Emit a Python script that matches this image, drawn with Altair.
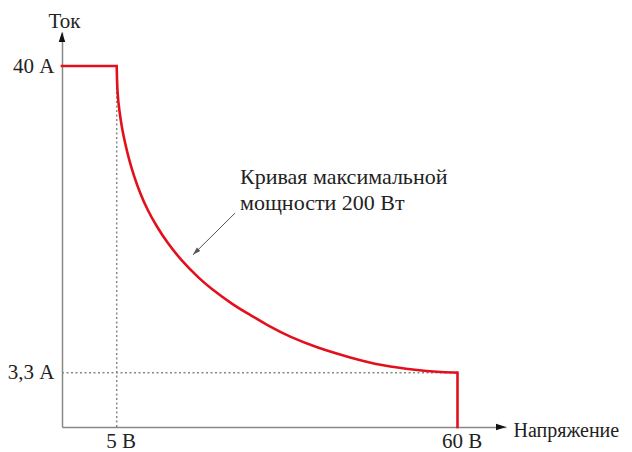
import altair as alt
import pandas as pd

# Power-limit curve (V, A)
voltage = [0, 5, 5.1, 5.42, 5.81, 6.34, 6.99, 7.8, 8.76, 9.94, 11.46, 13.07, 15.49,
           18.45, 20.07, 23.8, 26.6, 29.7, 32.9, 37.3, 42.7, 48.0, 53.5, 56.7, 60, 60]
current = [40, 40, 36.7, 34.7, 32.7, 30.8, 28.8, 26.8, 24.8, 22.8, 20.8, 18.94, 16.67,
           14.48, 13.46, 11.4, 10.2, 8.8, 7.6, 6.3, 5.1, 4.1, 3.6, 3.4, 3.3, 0]

x_ticks = [5, 60]
y_ticks = [3.3, 40]
x_title = "Напряжение"
y_title = "Ток"
note = "Кривая максимальной\nмощности 200 Вт"

# schematic (piecewise) axes
x_domain = [0, 5, 60, 67.8]
x_range = [0, 54.7, 395.5, 444]
y_domain = [0, 3.3, 40, 44.1]
y_range = [395, 340.7, 34, 0]

FONT = "Liberation Serif"
RED = "#e3101b"

n = len(voltage)
curve = pd.DataFrame({"v": voltage, "i": current, "k": list(range(n))})
guides = pd.DataFrame({"v": [x_ticks[0], 0], "v2": [x_ticks[0], x_ticks[1]],
                       "i": [0, y_ticks[0]], "i2": [y_ticks[1], y_ticks[0]]})
x_arrow = pd.DataFrame({"v": [x_domain[-1]], "i": [0]})
y_arrow = pd.DataFrame({"v": [0], "i": [y_domain[-1]]})
pointer = pd.DataFrame({"v": [24.1], "i": [22.4], "v2": [17.3], "i2": [17.4]})
label = pd.DataFrame({"v": [24.9], "i": [25.9], "t": [note]})

xs = alt.Scale(domain=x_domain, range=x_range, nice=False, zero=False)
ys = alt.Scale(domain=y_domain, range=y_range, nice=False, zero=False)

x_axis = alt.Axis(values=x_ticks, labelExpr="datum.value + ' В'", ticks=False, grid=False,
                  domainColor="#888", domainWidth=1.5, labelFont=FONT, labelFontSize=21,
                  labelColor="#222", labelPadding=3, labelAngle=0, labelOffset=4,
                  title=x_title, titleFont=FONT, titleFontSize=20, titleFontWeight="normal",
                  titleColor="#222", titleX=451, titleY=9, titleAlign="left",
                  titleBaseline="alphabetic")
y_axis = alt.Axis(values=y_ticks,
                  labelExpr="replace(toString(datum.value), '.', ',') + ' А'",
                  ticks=False, grid=False, domainColor="#888", domainWidth=1.5,
                  labelFont=FONT, labelFontSize=21, labelColor="#222", labelPadding=8,
                  title=y_title, titleFont=FONT, titleFontSize=21, titleFontWeight="normal",
                  titleColor="#222", titleAngle=0, titleX=2, titleY=-5, titleAlign="center",
                  titleBaseline="alphabetic")


def X(f):
    return alt.X(f, scale=xs, axis=x_axis)


def Y(f):
    return alt.Y(f, scale=ys, axis=y_axis)


dots = alt.Chart(guides).mark_rule(color="#888", strokeWidth=1.5, strokeDash=[2, 2.5]).encode(
    x=X("v:Q"), x2="v2:Q", y=Y("i:Q"), y2="i2:Q")

flat = alt.Chart(curve).transform_filter(
    (alt.datum.k <= 1) | (alt.datum.k >= n - 2)
).mark_line(color=RED, strokeWidth=2.6, strokeCap="square").encode(
    x=X("v:Q"), y=Y("i:Q"), order="k:Q",
    detail=alt.Detail("seg:N")).transform_calculate(seg="datum.k <= 1 ? 'a' : 'b'")

bend = alt.Chart(curve).transform_filter(
    (alt.datum.k >= 1) & (alt.datum.k <= n - 2)
).mark_line(color=RED, strokeWidth=2.6, interpolate="basis").encode(
    x=X("v:Q"), y=Y("i:Q"), order="k:Q")

xa = alt.Chart(x_arrow).mark_point(shape="M0,0L-2,-0.65L-2,0.65Z", size=100, filled=True,
                                   color="#111", opacity=1).encode(x=X("v:Q"), y=Y("i:Q"))
ya = alt.Chart(y_arrow).mark_point(shape="M0,0L-0.65,2L0.65,2Z", size=100, filled=True,
                                   color="#111", opacity=1).encode(x=X("v:Q"), y=Y("i:Q"))

pline = alt.Chart(pointer).mark_rule(color="#555", strokeWidth=1).encode(
    x=X("v:Q"), x2="v2:Q", y=Y("i:Q"), y2="i2:Q")
phead = alt.Chart(pointer).mark_point(shape="M0,0L-0.6,2L0.6,2Z", size=64, filled=True,
                                      color="#555", opacity=1, angle=225).encode(
    x=X("v2:Q"), y=Y("i2:Q"))

txt = alt.Chart(label).mark_text(font=FONT, fontSize=22, color="#222", align="left",
                                 baseline="alphabetic", lineBreak="\n", lineHeight=26).encode(
    x=X("v:Q"), y=Y("i:Q"), text="t:N")

chart = alt.layer(dots, flat, bend, xa, ya, pline, phead, txt).properties(
    width=444, height=395, autosize=alt.AutoSizeParams(type="none"),
    padding={"left": 54, "top": 24, "right": 118, "bottom": 25},
    background="white"
).configure_view(stroke=None)

chart.save("out.html", embed_options={"renderer": "svg", "actions": False})
